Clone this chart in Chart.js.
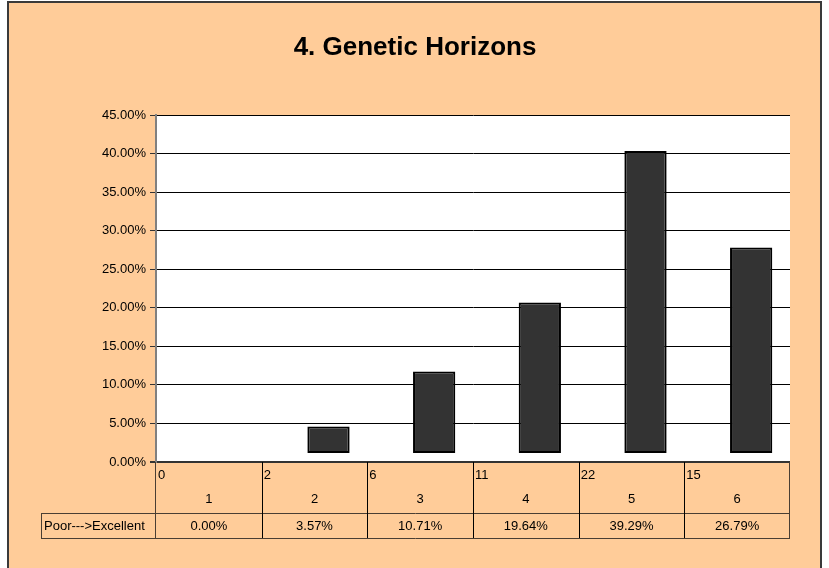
<!DOCTYPE html>
<html>
<head>
<meta charset="utf-8">
<script src="https://cdn.jsdelivr.net/npm/chart.js@4"></script>
<style>
  html, body { margin: 0; padding: 0; background: #ffffff; }
  #wrap { width: 829px; height: 568px; position: relative; }
</style>
</head>
<body>
<div id="wrap"><canvas id="c" width="829" height="568"></canvas></div>
<script>
const titleText = '4. Genetic Horizons';
const categories = ['1', '2', '3', '4', '5', '6'];
const counts = [0, 2, 6, 11, 22, 15];
const percentValues = [0.00, 3.57, 10.71, 19.64, 39.29, 26.79];
const seriesName = 'Poor--->Excellent';
const yMin = 0, yMax = 45, yStep = 5;

const FONT = '"Liberation Sans", Arial, sans-serif';
const PEACH = '#FFCC99';

const framePlugin = {
  id: 'frame',
  beforeDraw(chart) {
    const ctx = chart.ctx;
    ctx.save();
    ctx.fillStyle = '#ffffff';
    ctx.fillRect(0, 0, chart.width, chart.height);
    ctx.fillStyle = PEACH;
    ctx.fillRect(8, 2, 813, chart.height);
    ctx.strokeStyle = '#3a3a3a';
    ctx.lineWidth = 2;
    ctx.strokeRect(8, 2, 813, chart.height + 10);
    const a = chart.chartArea;
    ctx.fillStyle = '#ffffff';
    ctx.fillRect(a.left, a.top, a.right - a.left, a.bottom - a.top);
    // title
    ctx.fillStyle = '#000000';
    ctx.font = 'bold 26px ' + FONT;
    ctx.textAlign = 'center';
    ctx.textBaseline = 'middle';
    ctx.fillText(titleText, 415, 48);
    ctx.restore();
  }
};

const shiftPlugin = {
  id: 'shift',
  beforeDatasetsDraw(chart) { chart.ctx.save(); chart.ctx.translate(14, -8); },
  afterDatasetsDraw(chart) { chart.ctx.restore(); }
};

const tablePlugin = {
  id: 'dataTable',
  afterDraw(chart) {
    const ctx = chart.ctx;
    const x = chart.scales.x;
    const a = chart.chartArea;
    const colW = x.getPixelForValue(1) - x.getPixelForValue(0);
    const row1Top = a.bottom, row1Bot = a.bottom + 51, row2Bot = a.bottom + 76;
    const leftCell = 41;
    ctx.save();
    ctx.lineWidth = 1;
    ctx.strokeStyle = '#4a3e33';
    ctx.beginPath();
    ctx.moveTo(leftCell, row1Bot + 0.5); ctx.lineTo(a.right, row1Bot + 0.5);
    ctx.moveTo(leftCell, row2Bot + 0.5); ctx.lineTo(a.right, row2Bot + 0.5);
    ctx.moveTo(leftCell + 0.5, row1Bot); ctx.lineTo(leftCell + 0.5, row2Bot);
    ctx.moveTo(Math.round(a.left) - 0.5, row1Top); ctx.lineTo(Math.round(a.left) - 0.5, row2Bot);
    ctx.moveTo(Math.round(a.right) - 0.5, row1Top); ctx.lineTo(Math.round(a.right) - 0.5, row2Bot);
    ctx.stroke();
    ctx.strokeStyle = '#000000';
    ctx.beginPath();
    for (let i = 1; i < categories.length; i++) {
      const bx = Math.round(x.getPixelForValue(i) - colW / 2) + 0.5;
      ctx.moveTo(bx, row1Top); ctx.lineTo(bx, row2Bot);
    }
    ctx.stroke();
    ctx.fillStyle = '#000000';
    ctx.font = '13px ' + FONT;
    ctx.textBaseline = 'middle';
    for (let i = 0; i < categories.length; i++) {
      const cx = x.getPixelForValue(i);
      ctx.textAlign = 'left';
      ctx.fillText(String(counts[i]), cx - colW / 2 + 2, row1Top + 13);
      ctx.textAlign = 'center';
      ctx.fillText(categories[i], cx, row1Top + 37);
      ctx.fillText(percentValues[i].toFixed(2) + '%', cx, row1Bot + 13);
    }
    ctx.textAlign = 'left';
    ctx.fillText(seriesName, leftCell + 3, row1Bot + 13);
    ctx.restore();
  }
};

new Chart(document.getElementById('c'), {
  type: 'bar',
  data: {
    labels: categories,
    datasets: [{
      label: seriesName,
      data: percentValues,
      backgroundColor: '#333333',
      borderColor: '#000000',
      borderWidth: 2,
      borderSkipped: false,
      barPercentage: 0.4,
      categoryPercentage: 1.0
    }]
  },
  options: {
    responsive: false,
    animation: false,
    layout: { padding: { top: 115, left: 0, right: 39, bottom: 106 } },
    plugins: {
      legend: { display: false },
      tooltip: { enabled: false },
      title: { display: false }
    },
    scales: {
      x: { display: false },
      y: {
        min: yMin,
        max: yMax,
        afterFit(scale) { scale.width = 156; },
        border: { display: true, color: '#808080', width: 2 },
        grid: {
          color: (c) => c.tick && c.tick.value === 0 ? '#333333' : '#000000',
          lineWidth: (c) => c.tick && c.tick.value === 0 ? 2 : 1,
          tickColor: '#333333',
          tickLength: 6,
          drawTicks: true
        },
        ticks: {
          stepSize: yStep,
          padding: 4,
          color: '#000000',
          font: { family: FONT, size: 13 },
          callback: (v) => Number(v).toFixed(2) + '%'
        }
      }
    }
  },
  plugins: [framePlugin, shiftPlugin, tablePlugin]
});
</script>
</body>
</html>
